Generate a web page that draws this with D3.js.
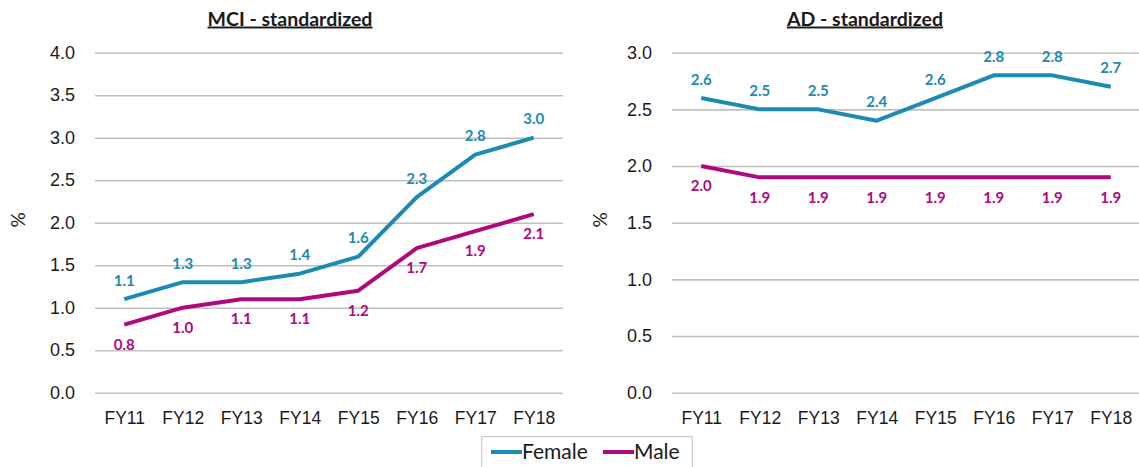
<!DOCTYPE html>
<html>
<head>
<meta charset="utf-8">
<script src="https://cdn.jsdelivr.net/npm/d3@7"></script>
<style>
  body { margin: 0; background: #fff; }
  svg { display: block; font-family: Lato, "Open Sans", sans-serif; }
</style>
</head>
<body>
<div id="chart"></div>
<script>
// data
const years = ["FY11", "FY12", "FY13", "FY14", "FY15", "FY16", "FY17", "FY18"];
const mciFemale = [1.1, 1.3, 1.3, 1.4, 1.6, 2.3, 2.8, 3.0];
const mciMale   = [0.8, 1.0, 1.1, 1.1, 1.2, 1.7, 1.9, 2.1];
const adFemale  = [2.6, 2.5, 2.5, 2.4, 2.6, 2.8, 2.8, 2.7];
const adMale    = [2.0, 1.9, 1.9, 1.9, 1.9, 1.9, 1.9, 1.9];
const mciTicks = [0, 0.5, 1, 1.5, 2, 2.5, 3, 3.5, 4];
const adTicks  = [0, 0.5, 1, 1.5, 2, 2.5, 3];
const seriesNames = ["Female", "Male"];

const colors = { Female: "#1b8ab4", Male: "#b0097e" };

const width = 1139, height = 467;

const svg = d3.select("#chart").append("svg")
    .attr("width", width)
    .attr("height", height);

function drawPanel(opts) {
    const x = d3.scalePoint()
        .domain(years)
        .range([opts.left, opts.right])
        .padding(0.5);
    const y = d3.scaleLinear()
        .domain([0, opts.max])
        .range([392.7, 52.7]);

    const g = svg.append("g");

    // gridlines + y tick labels
    const yAxis = g.append("g")
        .attr("transform", `translate(${opts.left},0)`)
        .call(d3.axisLeft(y)
            .tickValues(opts.ticks)
            .tickFormat(d3.format(".1f"))
            .tickSizeInner(-(opts.right - opts.left))
            .tickSizeOuter(0)
            .tickPadding(20));
    yAxis.select(".domain").remove();
    yAxis.selectAll(".tick line").attr("stroke", "#c0c0c0").attr("stroke-width", 1.6);
    yAxis.selectAll(".tick text")
        .attr("fill", "#1a1a1a")
        .style("font-size", "18px");

    // x labels
    const xAxis = g.append("g")
        .attr("transform", "translate(0,392.7)")
        .call(d3.axisBottom(x).tickSize(0).tickPadding(19));
    xAxis.select(".domain").remove();
    xAxis.selectAll(".tick text")
        .attr("fill", "#1a1a1a")
        .style("font-size", "17.5px");

    // title
    g.append("text")
        .attr("x", opts.titleX)
        .attr("y", 25.5)
        .attr("text-anchor", "middle")
        .attr("fill", "#1a1a1a")
        .style("font-size", "19.5px")
        .style("font-weight", "bold")
        .style("text-decoration", "underline")
        .text(opts.title);

    // % label
    g.append("text")
        .attr("transform", `translate(${opts.pctX},220) rotate(-90)`)
        .attr("text-anchor", "middle")
        .attr("dy", "0.35em")
        .attr("fill", "#1a1a1a")
        .style("font-size", "19px")
        .text("%");

    const line = d3.line()
        .x((d, i) => x(years[i]))
        .y(d => y(d));

    const series = [
        { name: "Female", values: opts.female, dy: -18.5 },
        { name: "Male", values: opts.male, dy: 20 }
    ];

    series.forEach(s => {
        g.append("path")
            .datum(s.values)
            .attr("fill", "none")
            .attr("stroke", colors[s.name])
            .attr("stroke-width", 4)
            .attr("stroke-linejoin", "round")
            .attr("d", line);

        g.selectAll(null)
            .data(s.values)
            .enter()
            .append("text")
            .attr("x", (d, i) => x(years[i]))
            .attr("y", d => y(d) + s.dy)
            .attr("dy", "0.35em")
            .attr("text-anchor", "middle")
            .attr("fill", colors[s.name])
            .style("font-size", "15px")
            .style("font-weight", "bold")
            .text(d => d.toFixed(1));
    });
}

drawPanel({ left: 95, right: 563, max: 4, ticks: mciTicks, female: mciFemale, male: mciMale,
    title: "MCI - standardized", titleX: 290, pctX: 18 });
drawPanel({ left: 672, right: 1140, max: 3, ticks: adTicks, female: adFemale, male: adMale,
    title: "AD - standardized", titleX: 865, pctX: 600 });

// legend
const legend = svg.append("g");
legend.append("rect")
    .attr("x", 481.7)
    .attr("y", 436.7)
    .attr("width", 210.6)
    .attr("height", 40)
    .attr("fill", "#fff")
    .attr("stroke", "#bfbfbf")
    .attr("stroke-width", 1);

const legendX = [491, 603];
seriesNames.forEach((name, i) => {
    legend.append("line")
        .attr("x1", legendX[i])
        .attr("x2", legendX[i] + 31)
        .attr("y1", 452)
        .attr("y2", 452)
        .attr("stroke", colors[name])
        .attr("stroke-width", 4);
    legend.append("text")
        .attr("x", legendX[i] + 31)
        .attr("y", 452)
        .attr("dy", "0.35em")
        .attr("fill", "#1a1a1a")
        .style("font-size", "21px")
        .text(name);
});
</script>
</body>
</html>
